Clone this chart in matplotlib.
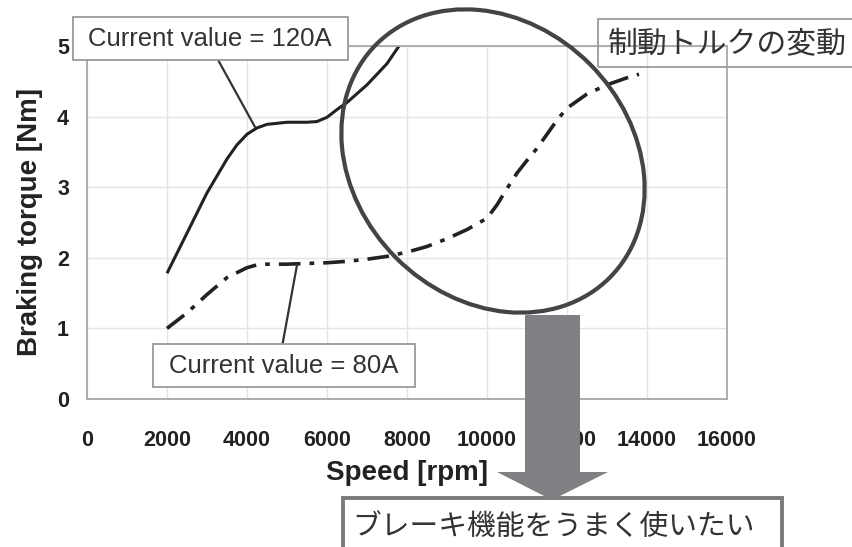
import matplotlib
matplotlib.use("Agg")
import matplotlib.pyplot as plt
from matplotlib.lines import Line2D
from matplotlib.patches import Ellipse, Polygon, Rectangle

speed_120a = [2000, 2500, 3000, 3500, 3750, 4000, 4250, 4500, 5000, 5500, 5750,
              6000, 6250, 6500, 7000, 7500, 7800]
torque_120a = [1.78, 2.35, 2.92, 3.40, 3.60, 3.75, 3.84, 3.89, 3.92, 3.92, 3.93,
               3.99, 4.10, 4.20, 4.45, 4.75, 5.00]

speed_80a = [2000, 2500, 3000, 3500, 4000, 4250, 4500, 5000, 5500, 6000, 6500, 7000,
             7500, 8000, 8500, 9000, 9500, 10000, 10250, 10500, 10750, 11000, 11250,
             11500, 11750, 12000, 12250, 12500, 13000, 13500, 13800]
torque_80a = [1.00, 1.22, 1.48, 1.72, 1.86, 1.90, 1.91, 1.91, 1.92, 1.93, 1.95, 1.98,
              2.02, 2.08, 2.16, 2.27, 2.40, 2.56, 2.75, 2.98, 3.20, 3.38, 3.55,
              3.75, 3.95, 4.12, 4.22, 4.32, 4.45, 4.55, 4.60]

x_ticks = list(range(0, 16001, 2000))
y_ticks = [0, 1, 2, 3, 4, 5]

W, H = 853, 547
LATIN = ["Liberation Sans", "DejaVu Sans"]
CJK = ["Noto Sans CJK JP", "DejaVu Sans"]


def fx(x):
    return x / W


def fy(y):
    return 1 - y / H


fig = plt.figure(figsize=(W / 100, H / 100), dpi=100)
ax = fig.add_axes([fx(87), fy(399), 640 / W, 353 / H])

ax.plot(speed_120a, torque_120a, color="#222222", lw=2.2,
        solid_capstyle="butt", solid_joinstyle="round")
ax.plot(speed_80a, torque_80a, color="#222222", lw=2.6,
        dashes=(6, 2.5, 1.3, 2.5), dash_capstyle="butt", dash_joinstyle="round")

ax.set_xlim(0, 16000)
ax.set_ylim(0, 5)
ax.set_xticks(x_ticks)
ax.set_yticks(y_ticks)
ax.set_xticklabels([str(t) for t in x_ticks], fontfamily=LATIN, fontweight="bold",
                   fontsize=15.5, color="#222222")
ax.set_yticklabels([str(t) for t in y_ticks], fontfamily=LATIN, fontweight="bold",
                   fontsize=15.5, color="#222222")
ax.tick_params(axis="x", length=0, pad=22)
ax.tick_params(axis="y", length=0, pad=13)
ax.grid(True, color="#e4e4e4", lw=1)
ax.set_axisbelow(True)
for sp in ax.spines.values():
    sp.set_color("#a8a8a8")
    sp.set_linewidth(1.3)

ax.set_xlabel("Speed [rpm]", fontfamily=LATIN, fontweight="bold", fontsize=20,
              color="#222222", labelpad=7)
ax.set_ylabel("Braking torque [Nm]", fontfamily=LATIN, fontweight="bold", fontsize=20,
              color="#222222", labelpad=10)


def box(x0, y0, x1, y1, ec="#9a9a9a", lw=1.3, fc="white", z=4):
    fig.add_artist(Rectangle((fx(x0), fy(y1)), (x1 - x0) / W, (y1 - y0) / H,
                             transform=fig.transFigure, fc=fc, ec=ec, lw=lw, zorder=z))


def leader(x0, y0, x1, y1):
    fig.add_artist(Line2D([fx(x0), fx(x1)], [fy(y0), fy(y1)], transform=fig.transFigure,
                          color="#333333", lw=1.6, zorder=3))


# highlight ellipse around the high-speed region
fig.add_artist(Ellipse((4.93, (H - 161) / 100), 3.30, 2.74, angle=-45,
                       transform=fig.dpi_scale_trans, fill=False, ec="#444444",
                       lw=3, zorder=3))

# 120A label
leader(217, 58, 255, 127)
box(73, 17, 348, 60)
fig.text(fx(210), fy(39), "Current value = 120A", ha="center", va="center",
         fontfamily=LATIN, fontsize=18.5, color="#333333", zorder=5)

# 80A label
leader(282, 347, 297, 265)
box(153, 344, 415, 387)
fig.text(fx(284), fy(366), "Current value = 80A", ha="center", va="center",
         fontfamily=LATIN, fontsize=18.5, color="#333333", zorder=5)

# torque variation label (transparent box)
box(598, 19, 870, 67, fc="none")
fig.text(fx(608), fy(45), "制動トルクの変動", ha="left", va="center",
         fontfamily=CJK, fontsize=21.5, color="#333333", zorder=5)

# big arrow
arrow = [(525, 315), (580, 315), (580, 472), (608, 472), (552, 500), (497, 472), (525, 472)]
fig.add_artist(Polygon([(fx(x), fy(y)) for x, y in arrow], closed=True,
                       transform=fig.transFigure, fc="#808084", ec="none", zorder=6))

box(343, 498, 782, 560, ec="#7a7a7a", lw=2.8)
fig.text(fx(352), fy(527), "ブレーキ機能をうまく使いたい", ha="left", va="center",
         fontfamily=CJK, fontsize=20.7, color="#333333", zorder=5)

fig.savefig("out.png", dpi=100)
